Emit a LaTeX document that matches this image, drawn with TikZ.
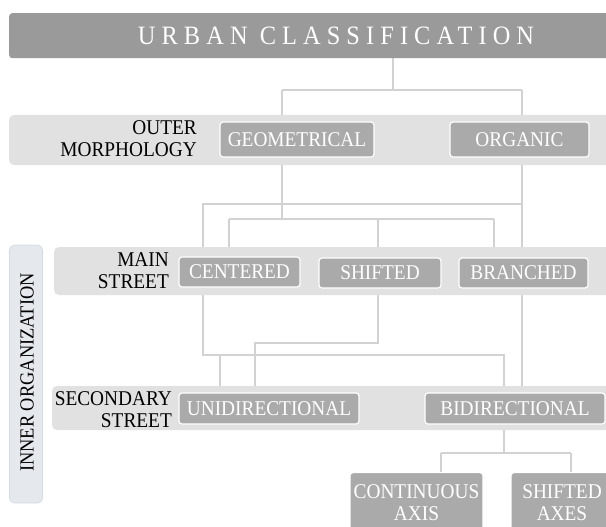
\documentclass[tikz,border=0pt]{standalone}
\usepackage{fontspec}
\setmainfont{Liberation Serif}[FakeStretch=0.92]
\newfontfamily\titlefont{Liberation Serif}[LetterSpace=23,FakeStretch=0.92]
\definecolor{titlegray}{HTML}{9A9A9A}
\definecolor{boxgray}{HTML}{AAAAAA}
\definecolor{bandgray}{HTML}{E1E1E2}
\definecolor{linegray}{HTML}{D2D2D2}
\definecolor{innerfill}{HTML}{E5E8EC}
\definecolor{innerdraw}{HTML}{D3DCE5}
\pgfdeclarelayer{lines}
\pgfdeclarelayer{bands}
\pgfsetlayers{lines,bands,main}
\begin{document}
\begin{tikzpicture}[x=1pt,y=-1pt,
  conn/.style={draw=linegray,line width=2pt},
  bandfill/.style={fill=bandgray,rounded corners=5pt},
  catbox/.style={draw=white,line width=1.2pt,fill=boxgray,rounded corners=3pt,text=white,
    font=\fontsize{21}{21.5}\selectfont,inner sep=0pt,align=center},
  rowlabel/.style={font=\fontsize{21}{22}\selectfont,align=right,anchor=east,inner sep=0pt}]
\useasboundingbox (0,0) rectangle (606,527);

% title bar
\node[fill=titlegray,rounded corners=3pt,minimum width=611pt,minimum height=45pt,inner sep=0pt,anchor=north west] (titlebar) at (9,13) {};
\node[text=white,font=\titlefont\fontsize{26.5}{28}\selectfont,inner sep=0pt] (ttl) at (336,36) {URBAN CLASSIFICATION};

% row labels
\node[rowlabel] (outerlbl) at (197,139) {OUTER\\MORPHOLOGY};
\node[rowlabel] (mainlbl) at (169,271) {MAIN\\STREET};
\node[rowlabel] (seclbl) at (172,410) {SECONDARY\\STREET};

% category boxes
\node[catbox,minimum width=154pt,minimum height=35pt] (geo) at (297,139.5) {GEOMETRICAL};
\node[catbox,minimum width=139pt,minimum height=35pt] (org) at (519.5,139.5) {ORGANIC};
\node[catbox,minimum width=121pt,minimum height=30pt] (cen) at (239.5,272) {CENTERED};
\node[catbox,minimum width=122pt,minimum height=30pt] (shi) at (380,273) {SHIFTED};
\node[catbox,minimum width=129pt,minimum height=30pt] (bra) at (523.5,273) {BRANCHED};
\node[catbox,minimum width=180pt,minimum height=31pt] (uni) at (269,408.5) {UNIDIRECTIONAL};
\node[catbox,minimum width=180pt,minimum height=31pt] (bid) at (515,408.5) {BIDIRECTIONAL};
\node[catbox,minimum width=133pt,minimum height=64pt,anchor=north] (cax) at (416.5,472) {};
\node[catbox,minimum width=105pt,minimum height=64pt,anchor=north] (sax) at (563.5,472) {};
\node[text=white,font=\fontsize{21}{21.5}\selectfont,align=center,inner sep=0pt] (caxt) at (416.5,502.5) {CONTINUOUS\\AXIS};
\node[text=white,font=\fontsize{21}{21.5}\selectfont,align=center,inner sep=0pt] (saxt) at (562,502.5) {SHIFTED\\AXES};

% inner organization side label
\node[fill=innerfill,draw=innerdraw,line width=0.8pt,rounded corners=5pt,minimum width=33pt,minimum height=258pt,inner sep=0pt] (innerbox) at (26,374) {};
\node[rotate=90,font=\fontsize{20}{21}\selectfont,inner sep=0pt] (innerlbl) at (27,372.5) {INNER ORGANIZATION};

% bands
\begin{pgfonlayer}{bands}
\fill[bandfill] (9,115) rectangle (620,165);
\fill[bandfill] (54,247) rectangle (620,295);
\fill[bandfill] (52,386) rectangle (620,430);
\end{pgfonlayer}

% junction coordinates
\coordinate (j0) at (393,90);
\coordinate (jgeo) at (282,90);
\coordinate (jorg) at (522,90);
\coordinate (h1l) at (203,204);
\coordinate (h1r) at (522,204);
\coordinate (h2l) at (229,219);
\coordinate (h2g) at (282,219);
\coordinate (h2m) at (378,219);
\coordinate (h2r) at (494,219);
\coordinate (h3r) at (378,343);
\coordinate (h3l) at (255,343);
\coordinate (h4l) at (203,355);
\coordinate (h4u) at (220,355);
\coordinate (h4r) at (504,355);
\coordinate (h5m) at (504,453);
\coordinate (h5l) at (440.5,453);
\coordinate (h5r) at (571,453);

% connectors
\begin{pgfonlayer}{lines}
\draw[conn] (titlebar.south -| j0) -- (j0);
\draw[conn] (jgeo) -- (jorg);
\draw[conn] (jgeo) -- (geo.north -| jgeo);
\draw[conn] (jorg) -- (org.north -| jorg);
\draw[conn] (geo.south -| h2g) -- (h2g);
\draw[conn] (org.south -| h1r) -- (bid.north -| h1r);
\draw[conn] (h1r) -- (h1l) -- (h4l) -- (h4r) -- (bid.north -| h4r);
\draw[conn] (h2l) -- (h2r);
\draw[conn] (h2l) -- (cen.north -| h2l);
\draw[conn] (h2m) -- (shi.north -| h2m);
\draw[conn] (h2r) -- (bra.north -| h2r);
\draw[conn] (shi.south -| h3r) -- (h3r) -- (h3l) -- (uni.north -| h3l);
\draw[conn] (h4u) -- (uni.north -| h4u);
\draw[conn] (bid.south -| h5m) -- (h5m);
\draw[conn] (h5l) -- (h5r);
\draw[conn] (h5l) -- (cax.north -| h5l);
\draw[conn] (h5r) -- (sax.north -| h5r);
\end{pgfonlayer}
\end{tikzpicture}
\end{document}
